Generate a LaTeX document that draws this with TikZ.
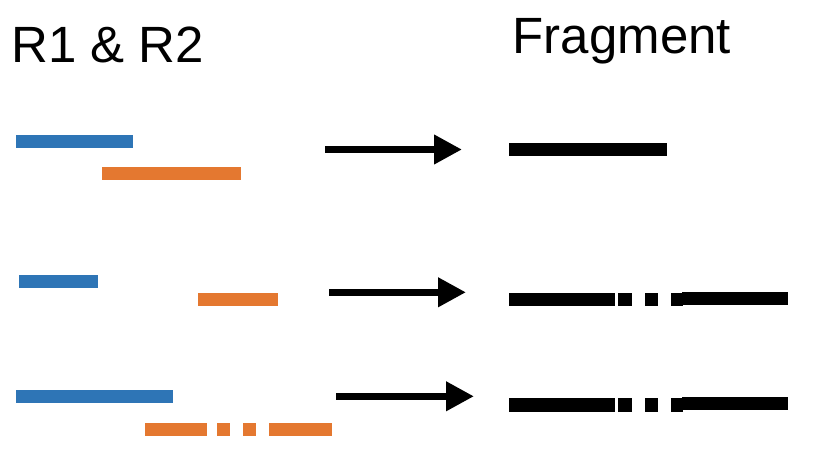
\documentclass[tikz,border=0pt]{standalone}
\usepackage{fontspec}
\setmainfont{Liberation Sans}
\usetikzlibrary{arrows.meta}
\definecolor{rblue}{RGB}{46,117,182}
\definecolor{rorange}{RGB}{228,120,48}
\begin{document}
\begin{tikzpicture}[x=1pt,y=-1pt,
  bar/.style={inner sep=0pt,outer sep=0pt,minimum height=13pt,anchor=west,draw=none},
  bluebar/.style={bar,fill=rblue},
  orangebar/.style={bar,fill=rorange},
  fragbar/.style={bar,fill=black,minimum height=13.3pt},
  bigarrow/.style={line width=7pt,-{Triangle[length=28pt,width=28pt]}},
  title/.style={inner sep=0pt,anchor=base west,font=\fontsize{51}{60}\selectfont}]
\useasboundingbox (0,0) rectangle (822,460);
% titles
\node[title] (t1) at (11,62.3) {R1 \& R2};
\node[title] (t2) at (512.5,53.3) {Fragment};
% row 1
\node[bluebar,minimum width=117pt] (b1) at (16,141.3) {};
\node[orangebar,minimum width=139pt] (o1) at (102,173.5) {};
\coordinate (a1s) at (325,149.5);
\coordinate (a1e) at (462,149.5);
\draw[bigarrow] (a1s) -- (a1e);
\node[fragbar,minimum width=158pt] (f1) at (509,149.2) {};
% row 2
\node[bluebar,minimum width=79pt] (b2) at (19,281.5) {};
\node[orangebar,minimum width=80pt] (o2) at (198,299.5) {};
\coordinate (a2s) at (329,292.3);
\coordinate (a2e) at (466,292.3);
\draw[bigarrow] (a2s) -- (a2e);
\node[fragbar,minimum width=106pt] (f2a) at (509,299.7) {};
\node[fragbar,minimum width=14pt] (f2b) at (618,299.7) {};
\node[fragbar,minimum width=13pt] (f2c) at (645,299.7) {};
\node[fragbar,minimum width=12pt] (f2d) at (671,299.7) {};
\node[fragbar,minimum width=106pt] (f2e) at (682,298.3) {};
% row 3
\node[bluebar,minimum width=157pt] (b3) at (16,396.3) {};
\node[orangebar,minimum width=62pt] (o3a) at (145,429.2) {};
\node[orangebar,minimum width=13pt] (o3b) at (217,429.2) {};
\node[orangebar,minimum width=13pt] (o3c) at (243,429.2) {};
\node[orangebar,minimum width=63pt] (o3d) at (269,429.2) {};
\coordinate (a3s) at (336,396.3);
\coordinate (a3e) at (474,396.3);
\draw[bigarrow] (a3s) -- (a3e);
\node[fragbar,minimum width=106pt] (f3a) at (509,405) {};
\node[fragbar,minimum width=14pt] (f3b) at (618,405) {};
\node[fragbar,minimum width=13pt] (f3c) at (645,405) {};
\node[fragbar,minimum width=12pt] (f3d) at (671,405) {};
\node[fragbar,minimum width=106pt] (f3e) at (682,403.8) {};
\end{tikzpicture}
\end{document}
